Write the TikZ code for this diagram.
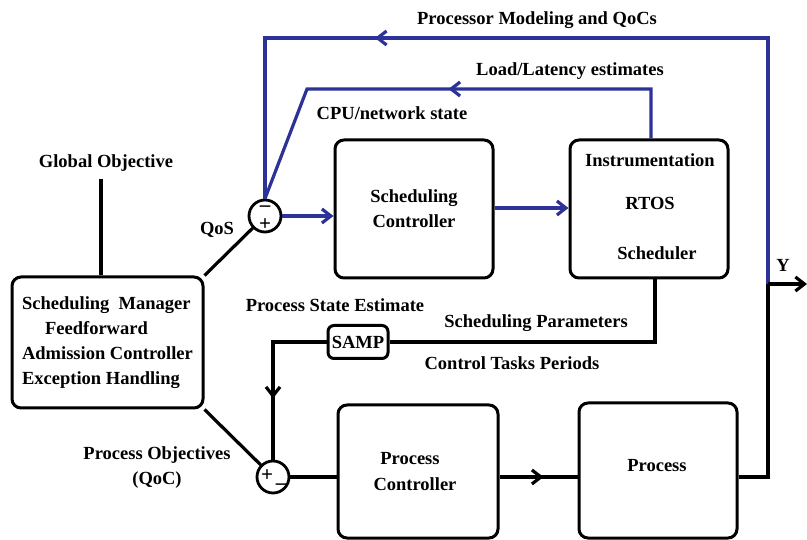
\documentclass[tikz,border=0pt]{standalone}
\usepackage{fontspec}
\setmainfont{Liberation Serif}
\usetikzlibrary{arrows.meta,decorations.markings}
\definecolor{fbblue}{RGB}{45,50,150}
\tikzset{
  lbl/.style={font=\bfseries\fontsize{18.5}{25}\selectfont, inner sep=0pt, align=center},
  sign/.style={font=\bfseries\fontsize{21}{21}\selectfont, inner sep=0pt},
  box/.style={draw, line width=3pt, rounded corners=9pt, inner sep=0pt},
  junction/.style={draw, circle, line width=2.8pt, minimum size=32pt, inner sep=0pt},
  wire/.style={line width=3.2pt},
  bwire/.style={wire, draw=fbblue},
  midarr/.style={postaction={decorate},
    decoration={markings, mark=at position #1 with {\arrow{Straight Barb[length=9pt,width=14pt]}}}},
}
\begin{document}
\begin{tikzpicture}[x=1pt, y=-1pt, >={Straight Barb[length=9pt,width=14pt]}]
\fill[white] (0,0) rectangle (807,540);
\useasboundingbox (0,0) rectangle (807,540);

% blocks
\node[box, minimum width=191pt, minimum height=131pt, lbl, align=left] (mgr) at (107.5,342.5)
  {Scheduling~ Manager\\\hspace*{23pt}Feedforward\\Admission Controller\\Exception Handling};
\node[box, minimum width=158pt, minimum height=138pt, lbl] (sc) at (414,209) {Scheduling\\Controller};
\node[box, minimum width=158pt, minimum height=138pt] (ins) at (649,209) {};
\node[lbl] (insA) at (650,160) {Instrumentation};
\node[lbl] (insB) at (650,203) {RTOS};
\node[lbl] (insC) at (657,253) {Scheduler};
\node[box, minimum width=160pt, minimum height=133pt] (pc) at (418,471.5) {};
\node[lbl] (pcA) at (410,459) {Process};
\node[lbl] (pcB) at (415,484) {Controller};
\node[box, minimum width=158pt, minimum height=135pt] (proc) at (658,470.5) {};
\node[lbl] (procA) at (657,466) {Process};
\node[box, rounded corners=6pt, minimum width=60pt, minimum height=33pt, lbl] (samp) at (358,342) {SAMP};

% summing junctions
\node[junction] (j1) at (265,216) {};
\node[sign] (j1m) at (265,208.5) {–};
\node[sign] (j1p) at (265,224.5) {+};
\node[junction] (j2) at (273,477) {};
\node[sign] (j2p) at (267,476) {+};
\node[sign] (j2m) at (281,487) {–};

% labels
\node[lbl] (tGO) at (106,163) {Global Objective};
\node[lbl] (tQoS) at (217,230) {QoS};
\node[lbl] (tPME) at (537,20) {Processor Modeling and QoCs};
\node[lbl] (tLL) at (570,71) {Load/Latency estimates};
\node[lbl] (tCPU) at (392,113) {CPU/network state};
\node[lbl] (tPSE) at (335,305) {Process State Estimate};
\node[lbl] (tSP) at (536,323) {Scheduling Parameters};
\node[lbl] (tCTP) at (512,363) {Control Tasks Periods};
\node[lbl] (tPO) at (157,468) {Process Objectives\\(QoC)};
\node[lbl] (tY) at (783,265) {Y};

% routing points
\coordinate (tr) at (768,38);
\coordinate (tl) at (265,38);
\coordinate (yj) at (768,284);
\coordinate (yend) at (807,284);
\coordinate (ll) at (651,89);
\coordinate (lm) at (307,89);
\coordinate (goTop) at (101,179);

% scheduling loop (blue)
\draw[bwire, midarr=639pt] (yj) -- (tr) -- (tl) -- (j1.north);
\draw[bwire, midarr=252pt] (ins.north -| ll) -- (ll) -- (lm) -- (j1.north);
\draw[bwire, ->] (j1.east) -- (j1.east -| sc.west);
\draw[bwire, ->] ([yshift=1pt]sc.east) -- ([yshift=1pt]ins.west);

% manager connections
\draw[wire] (goTop) -- (goTop |- mgr.north);
\draw[wire] (mgr.north east) -- (j1);
\draw[wire] (mgr.south east) -- (j2);

% process loop (black)
\draw[wire] ([xshift=6pt]ins.south) |- (samp.east);
\draw[wire, midarr=110pt] (samp.west) -| (j2.north);
\draw[wire] (j2.east) -- (j2.east -| pc.west);
\draw[wire, midarr=44pt] (pc.east |- j2.east) -- (proc.west |- j2.east);
\draw[wire] (proc.east |- j2.east) -| (yj);
\draw[wire, ->] (yj) -- (yend);
\end{tikzpicture}
\end{document}
